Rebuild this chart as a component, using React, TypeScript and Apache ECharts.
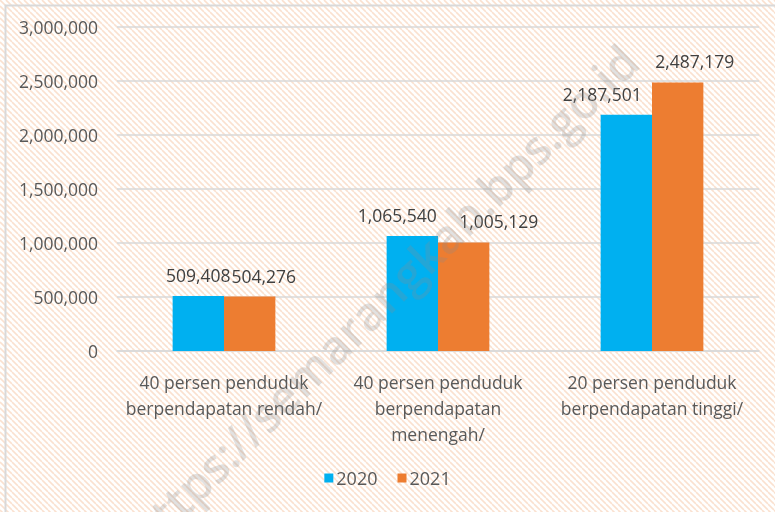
import React, { useEffect, useRef } from "react";
import * as echarts from "echarts";

const categories = [
  "40 persen penduduk\nberpendapatan rendah/",
  "40 persen penduduk\nberpendapatan\nmenengah/",
  "20 persen penduduk\nberpendapatan tinggi/",
];
const series2020 = [509408, 1065540, 2187501];
const series2021 = [504276, 1005129, 2487179];
const seriesNames = ["2020", "2021"];
const watermark = "https://semarangkab.bps.go.id";

const FONT = "'Open Sans', 'Noto Sans', sans-serif";
const fmt = (v: number) => v.toLocaleString("en-US");

function makeHatch(): string {
  const c = document.createElement("canvas");
  const n = 6;
  c.width = n;
  c.height = n;
  const ctx = c.getContext("2d")!;
  ctx.fillStyle = "#ffffff";
  ctx.fillRect(0, 0, n, n);
  ctx.strokeStyle = "rgba(246,200,170,0.55)";
  ctx.lineWidth = 1.6;
  for (let k = -1; k <= 1; k++) {
    ctx.beginPath();
    ctx.moveTo(k * n, 0);
    ctx.lineTo(k * n + n, n);
    ctx.stroke();
  }
  return c.toDataURL();
}

export default function App() {
  const ref = useRef<HTMLDivElement>(null);
  useEffect(() => {
    if (!ref.current) return;
    const chart = echarts.init(ref.current, undefined, { renderer: "svg" });
    let bg: any = "#fdf5ef";
    try {
      bg = { image: makeHatch(), repeat: "repeat" };
    } catch (e) {
      bg = "#fdf5ef";
    }
    const shift2020 = [0, -15, -24];
    const shift2021 = [14, 35, 17];
    const mk = (vals: number[], shifts: number[]) =>
      vals.map((v, i) => ({ value: v, label: { offset: [shifts[i], 0] } }));
    const labelStyle = {
      show: true,
      position: "top",
      distance: 12,
      color: "#404040",
      fontSize: 17.5,
      fontFamily: FONT,
      formatter: (p: any) => fmt(p.value),
    };
    chart.setOption({
      animation: false,
      backgroundColor: bg,
      textStyle: { fontFamily: FONT },
      grid: { left: 117, right: 16, top: 27, bottom: 161, containLabel: false },
      legend: {
        bottom: 20,
        left: "center",
        itemWidth: 9,
        itemHeight: 9,
        itemGap: 20,
        icon: "rect",
        textStyle: { fontSize: 18, color: "#595959", fontFamily: FONT, padding: [0, 0, 0, -2] },
        data: seriesNames,
      },
      xAxis: {
        type: "category",
        data: categories,
        axisLine: { lineStyle: { color: "#d9d9d9", width: 1.5 } },
        axisTick: { show: false },
        axisLabel: {
          color: "#595959",
          fontSize: 17.5,
          lineHeight: 26,
          margin: 18,
          fontFamily: FONT,
          interval: 0,
        },
      },
      yAxis: {
        type: "value",
        min: 0,
        max: 3000000,
        interval: 500000,
        axisLine: { show: false },
        axisTick: { show: false },
        splitLine: { lineStyle: { color: "#d9d9d9", width: 1.5 } },
        axisLabel: {
          color: "#595959",
          fontSize: 17.5,
          margin: 19,
          fontFamily: FONT,
          formatter: (v: number) => fmt(v),
        },
      },
      series: [
        {
          name: seriesNames[0],
          type: "bar",
          data: mk(series2020, shift2020),
          barGap: "0%",
          barCategoryGap: "52%",
          itemStyle: { color: "#00B0F0" },
          label: labelStyle,
        },
        {
          name: seriesNames[1],
          type: "bar",
          data: mk(series2021, shift2021),
          barGap: "0%",
          barCategoryGap: "52%",
          itemStyle: { color: "#ED7D31" },
          label: labelStyle,
        },
      ],
      graphic: [
        {
          type: "rect",
          left: 3,
          top: 3,
          shape: { width: 820, height: 560 },
          style: { fill: "none", stroke: "#d9d9d9", lineWidth: 2 },
          silent: true,
          z: 0,
        },
        {
          type: "text",
          x: 383,
          y: 297,
          rotation: 0.78,
          silent: true,
          z: 100,
          style: {
            text: watermark,
            font: `600 47px ${FONT}`,
            fill: "rgba(140,140,140,0.26)",
            align: "center",
            verticalAlign: "middle",
          },
        },
      ],
    });
    return () => chart.dispose();
  }, []);
  return (
    <div
      ref={ref}
      style={{ position: "fixed", left: 0, top: 0, width: 775, height: 512 }}
    />
  );
}
